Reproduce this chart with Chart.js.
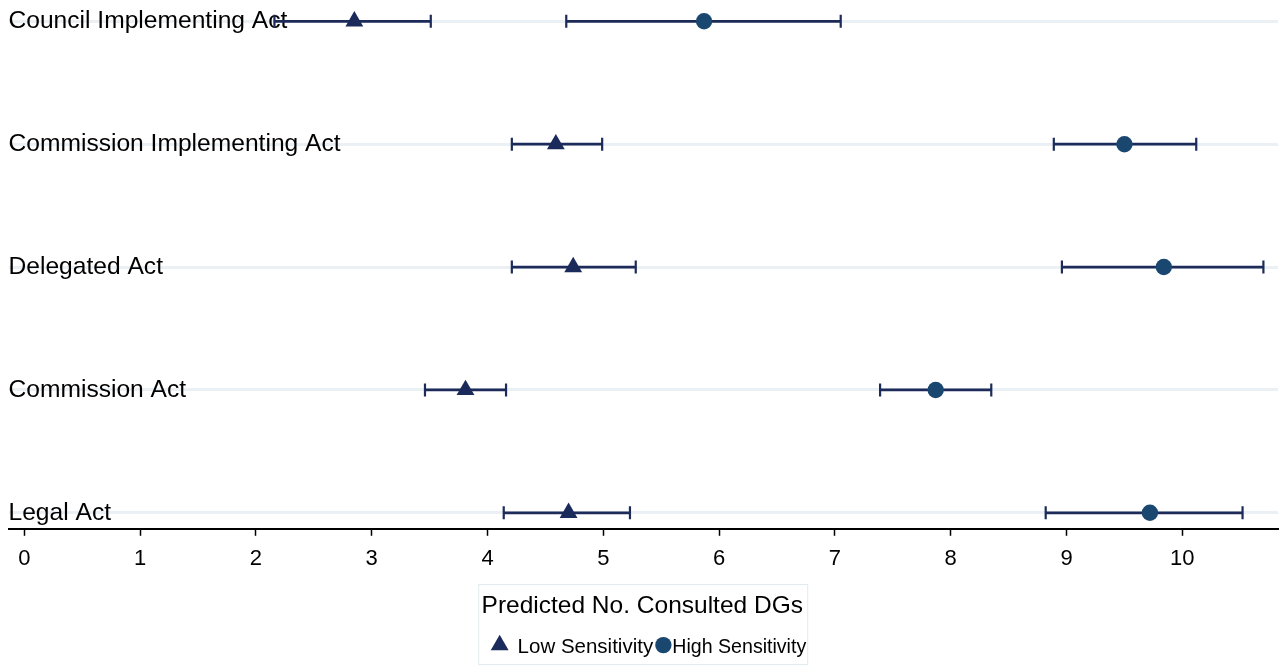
<!DOCTYPE html>
<html>
<head>
<meta charset="utf-8">
<script src="https://cdn.jsdelivr.net/npm/chart.js@4/dist/chart.umd.min.js"></script>
<style>
  html, body { margin: 0; padding: 0; background: #ffffff; }
  #wrap { width: 1281px; height: 666px; position: relative; }
</style>
</head>
<body>
<div id="wrap"><canvas id="c"></canvas></div>
<script>
// Categories, bottom (index 0) to top
const categories = ['Legal Act', 'Commission Act', 'Delegated Act', 'Commission Implementing Act', 'Council Implementing Act'];
// Low Sensitivity: estimate and confidence interval
const lowEst = [4.70, 3.81, 4.74, 4.59, 2.85];
const lowLo  = [4.14, 3.46, 4.21, 4.21, 2.16];
const lowHi  = [5.23, 4.16, 5.28, 4.99, 3.51];
// High Sensitivity: estimate and confidence interval
const highEst = [9.72, 7.87, 9.84, 9.50, 5.87];
const highLo  = [8.82, 7.39, 8.96, 8.89, 4.68];
const highHi  = [10.52, 8.35, 10.70, 10.12, 7.05];
// X tick labels
const xTicks = [0, 1, 2, 3, 4, 5, 6, 7, 8, 9, 10];
const seriesNames = ['Low Sensitivity', 'High Sensitivity'];
const legendTitle = 'Predicted No. Consulted DGs';

const FONT = "'Liberation Sans', Arial, Helvetica, sans-serif";
const LINE_COLOR = '#1c2b5a';

const errorBarPlugin = {
  id: 'errorBars',
  beforeDatasetsDraw(chart) {
    const ctx = chart.ctx;
    const xs = chart.scales.x, ys = chart.scales.y;
    const sets = [[lowLo, lowHi], [highLo, highHi]];
    ctx.save();
    ctx.strokeStyle = LINE_COLOR;
    ctx.lineCap = 'butt';
    sets.forEach(([lo, hi]) => {
      lo.forEach((v, i) => {
        const x1 = xs.getPixelForValue(v);
        const x2 = xs.getPixelForValue(hi[i]);
        const y = ys.getPixelForValue(i);
        ctx.lineWidth = 2.8;
        ctx.beginPath();
        ctx.moveTo(x1, y); ctx.lineTo(x2, y);
        ctx.stroke();
        ctx.lineWidth = 2.2;
        ctx.beginPath();
        ctx.moveTo(x1, y - 6.5); ctx.lineTo(x1, y + 6.5);
        ctx.moveTo(x2, y - 6.5); ctx.lineTo(x2, y + 6.5);
        ctx.stroke();
      });
    });
    ctx.restore();
  }
};

const legendPlugin = {
  id: 'boxLegend',
  afterDraw(chart) {
    const ctx = chart.ctx;
    const ca = chart.chartArea;
    const cx = (ca.left + ca.right) / 2;
    const boxTop = ca.bottom + 55.3;
    const boxW = 330, boxH = 81;
    const boxLeft = cx - boxW / 2;
    ctx.save();
    ctx.fillStyle = '#ffffff';
    ctx.fillRect(boxLeft, boxTop, boxW, boxH);
    ctx.strokeStyle = '#e2e9ed';
    ctx.lineWidth = 1;
    ctx.strokeRect(boxLeft + 0.5, boxTop + 0.5, boxW - 1, boxH - 1);
    // title
    ctx.fillStyle = '#000000';
    ctx.font = '24.5px ' + FONT;
    ctx.textAlign = 'center';
    ctx.textBaseline = 'alphabetic';
    ctx.fillText(legendTitle, cx - 1, boxTop + 29);
    // items
    ctx.textAlign = 'left';
    const ds = chart.data.datasets;
    const symY = boxTop + 61;
    const baseY = boxTop + 68.5;
    let x = boxLeft + 12.5;
    // item 1: triangle
    const r1 = ds[0].pointRadius;
    ctx.fillStyle = ds[0].backgroundColor;
    ctx.beginPath();
    const tw = r1 * Math.sqrt(3);
    ctx.moveTo(x + tw / 2, symY - r1);
    ctx.lineTo(x + tw, symY + r1 / 2);
    ctx.lineTo(x, symY + r1 / 2);
    ctx.closePath();
    ctx.fill();
    x += tw + 9;
    ctx.fillStyle = '#000000';
    ctx.font = '20.5px ' + FONT;
    ctx.fillText(ds[0].label, x, baseY);
    x += ctx.measureText(ds[0].label).width + 2;
    // item 2: circle
    const r2 = ds[1].pointRadius;
    ctx.fillStyle = ds[1].backgroundColor;
    ctx.beginPath();
    ctx.arc(x + r2, symY, r2, 0, Math.PI * 2);
    ctx.fill();
    x += 2 * r2 + 0.7;
    ctx.fillStyle = '#000000';
    ctx.font = '19.6px ' + FONT;
    ctx.fillText(ds[1].label, x, baseY);
    ctx.restore();
  }
};

new Chart(document.getElementById('c'), {
  type: 'scatter',
  data: {
    datasets: [
      {
        label: seriesNames[0],
        data: lowEst.map((v, i) => ({ x: v, y: i })),
        pointStyle: 'triangle',
        pointRadius: 10.3,
        backgroundColor: '#1a2a5a',
        borderWidth: 0,
        pointHoverRadius: 10.3,
        clip: false
      },
      {
        label: seriesNames[1],
        data: highEst.map((v, i) => ({ x: v, y: i })),
        pointStyle: 'circle',
        pointRadius: 8.2,
        backgroundColor: '#1a476f',
        borderWidth: 0,
        pointHoverRadius: 8.2,
        clip: false
      }
    ]
  },
  options: {
    responsive: true,
    maintainAspectRatio: false,
    animation: false,
    layout: { autoPadding: false, padding: { left: 8.5, right: 3, top: 0, bottom: 87.2 } },
    plugins: {
      legend: { display: false },
      tooltip: { enabled: false }
    },
    scales: {
      x: {
        type: 'linear',
        min: -0.1364,
        max: 10.826,
        afterBuildTicks: s => { s.ticks = xTicks.map(v => ({ value: v })); },
        afterFit: s => { s.height = 50; s.paddingLeft = 0; s.paddingRight = 0; },
        grid: { display: true, drawOnChartArea: false, drawTicks: true, tickLength: 7, tickColor: '#000000', tickWidth: 1.5 },
        border: { display: true, color: '#000000', width: 2 },
        ticks: { color: '#000000', font: { family: FONT, size: 22 }, padding: 10, maxRotation: 0, autoSkip: false }
      },
      y: {
        type: 'linear',
        min: -0.1302,
        max: 4.1734,
        afterBuildTicks: s => { s.ticks = categories.map((c, i) => ({ value: i })); },
        afterFit: s => { s.paddingTop = 0; s.paddingBottom = 0; },
        grid: { display: true, color: '#eaf0f3', lineWidth: 3, drawTicks: false },
        border: { display: false },
        ticks: {
          mirror: true,
          padding: 0,
          color: '#000000',
          font: { family: FONT, size: 24.6 },
          callback: v => categories[v]
        }
      }
    }
  },
  plugins: [errorBarPlugin, legendPlugin]
});
</script>
</body>
</html>
